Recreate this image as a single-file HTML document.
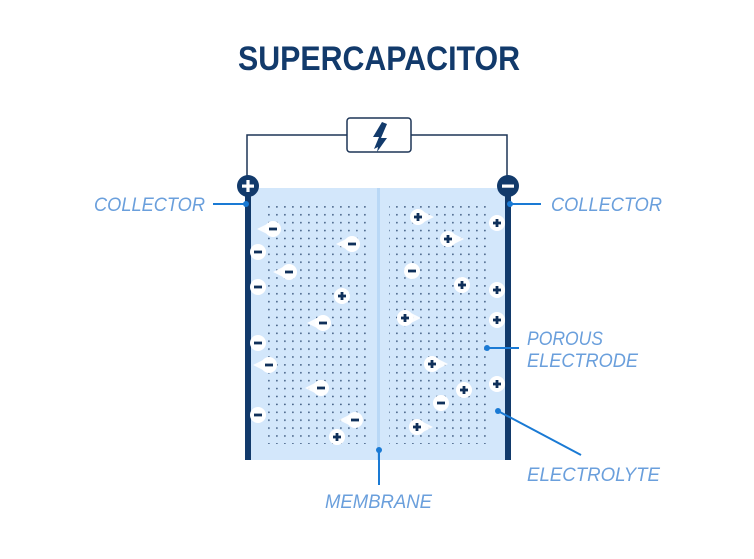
<!DOCTYPE html>
<html><head><style>html,body{margin:0;padding:0;background:#fff}</style></head>
<body>
<svg width="754" height="554" viewBox="0 0 754 554" xmlns="http://www.w3.org/2000/svg" font-family="Liberation Sans, sans-serif">
<defs>
<pattern id="dots" x="268" y="206" width="8" height="7.9" patternUnits="userSpaceOnUse">
<circle cx="0.9" cy="0.9" r="0.9" fill="#3d5a80"/>
</pattern>
<g id="neg"><circle r="8" fill="#fff"/><rect x="-4" y="-1.4" width="8" height="2.8" fill="#10305a"/></g>
<g id="pos"><circle r="8" fill="#fff"/><rect x="-4" y="-1.4" width="8" height="2.8" fill="#10305a"/><rect x="-1.4" y="-4" width="2.8" height="8" fill="#10305a"/></g>
<g id="negA"><polygon points="-6,-5 -16,0 -6,5" fill="#fff" opacity="0.9"/><use href="#neg"/></g>
<g id="posA"><polygon points="6,-5 16,0 6,5" fill="#fff" opacity="0.9"/><use href="#pos"/></g>
</defs>
<text x="379" y="70" text-anchor="middle" font-size="34" font-weight="bold" fill="#123a6b" textLength="282" lengthAdjust="spacingAndGlyphs">SUPERCAPACITOR</text>
<polyline points="247,180 247,135 347,135" fill="none" stroke="#1d3557" stroke-width="1.5"/>
<polyline points="411,135 507,135 507,180" fill="none" stroke="#1d3557" stroke-width="1.5"/>
<rect x="347" y="118" width="64" height="34" rx="3" fill="#fff" stroke="#1d3557" stroke-width="1.5"/>
<polygon points="382,122 373,137 379,137 374,149 378,147 377,152 387,138 381,138 387,124" fill="#123a6b"/>
<rect x="251" y="188" width="254" height="272" fill="#d3e7fb"/>
<rect x="377" y="188" width="3" height="272" fill="#b9d8f6"/>
<rect x="268" y="206" width="98" height="238" fill="url(#dots)"/>
<rect x="389" y="206" width="100" height="238" fill="url(#dots)" />
<rect x="245" y="186" width="6" height="274" fill="#123a6b"/>
<rect x="505" y="186" width="6" height="274" fill="#123a6b"/>
<circle cx="248" cy="186" r="11" fill="#123a6b"/>
<rect x="242" y="184.5" width="12" height="3.2" fill="#fff"/><rect x="246.4" y="180" width="3.2" height="12" fill="#fff"/>
<circle cx="508" cy="186" r="11" fill="#123a6b"/>
<rect x="502" y="184.5" width="12" height="3.2" fill="#fff"/>
<use href="#negA" x="273" y="229"/><use href="#negA" x="352" y="244"/><use href="#negA" x="289" y="272"/>
<use href="#negA" x="323" y="323"/><use href="#negA" x="269" y="365"/><use href="#negA" x="321" y="388"/><use href="#negA" x="355" y="420"/>
<use href="#neg" x="258" y="252"/><use href="#neg" x="258" y="287"/><use href="#neg" x="258" y="343"/><use href="#neg" x="258" y="415"/>
<use href="#pos" x="342" y="296"/><use href="#pos" x="337" y="437"/>
<use href="#posA" x="418" y="217"/><use href="#posA" x="448" y="239"/><use href="#posA" x="405" y="318"/><use href="#posA" x="432" y="364"/><use href="#posA" x="417" y="427"/>
<use href="#pos" x="497" y="223"/><use href="#pos" x="462" y="285"/><use href="#pos" x="497" y="290"/><use href="#pos" x="497" y="320"/><use href="#pos" x="464" y="390"/><use href="#pos" x="497" y="384"/>
<use href="#neg" x="412" y="271"/><use href="#neg" x="441" y="403"/>
<g stroke="#1a7ad4" stroke-width="2" fill="#1a7ad4">
<line x1="213" y1="204" x2="246" y2="204"/><circle cx="246" cy="204" r="3" stroke="none"/>
<line x1="510" y1="204" x2="541" y2="204"/><circle cx="510" cy="204" r="3" stroke="none"/>
<line x1="487" y1="348" x2="519" y2="348"/><circle cx="487" cy="348" r="3" stroke="none"/>
<line x1="498" y1="411" x2="581" y2="455"/><circle cx="498" cy="411" r="3" stroke="none"/>
<line x1="379" y1="450" x2="379" y2="485"/><circle cx="379" cy="450" r="3" stroke="none"/>
</g>
<g fill="#6a9fdc" font-size="19" font-style="italic">
<text x="94" y="211" textLength="111" lengthAdjust="spacingAndGlyphs">COLLECTOR</text>
<text x="551" y="211" textLength="111" lengthAdjust="spacingAndGlyphs">COLLECTOR</text>
<text x="527" y="345" textLength="76" lengthAdjust="spacingAndGlyphs">POROUS</text>
<text x="527" y="367" textLength="111" lengthAdjust="spacingAndGlyphs">ELECTRODE</text>
<text x="527" y="481" textLength="133" lengthAdjust="spacingAndGlyphs">ELECTROLYTE</text>
<text x="325" y="508" textLength="107" lengthAdjust="spacingAndGlyphs">MEMBRANE</text>
</g>
</svg>
</body></html>
